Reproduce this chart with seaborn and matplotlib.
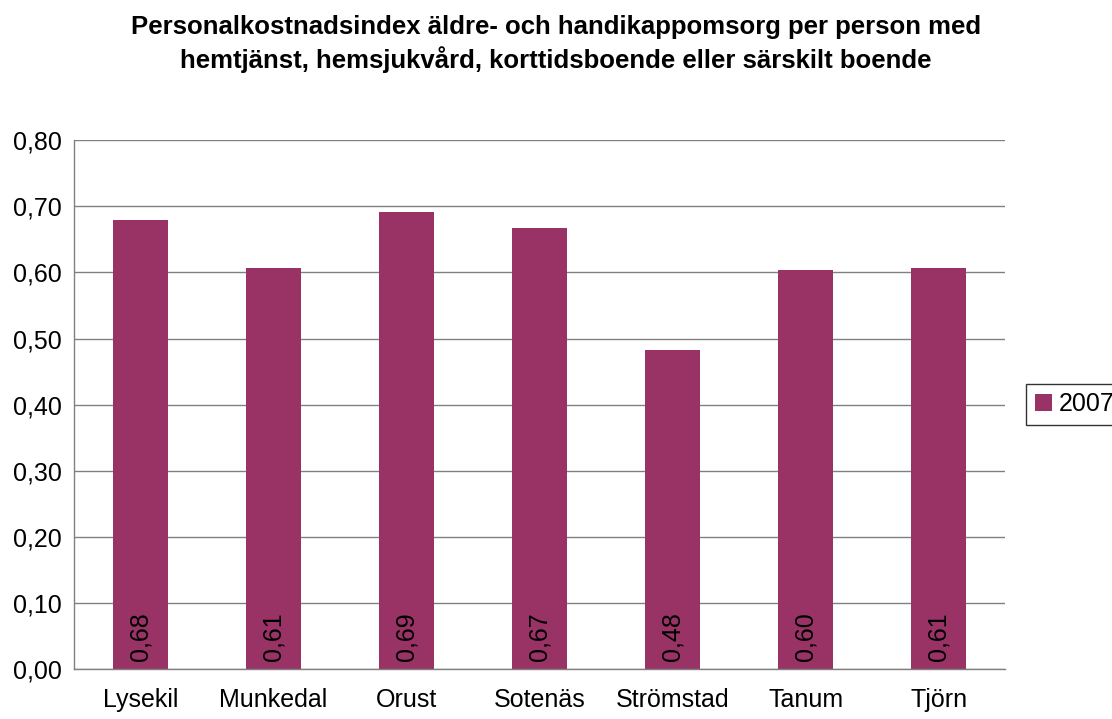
import pandas as pd
import numpy as np
import matplotlib.pyplot as plt
import seaborn as sns
from matplotlib.ticker import FixedLocator

kommuner = ['Lysekil', 'Munkedal', 'Orust', 'Sotenäs', 'Strömstad', 'Tanum', 'Tjörn']
index_2007 = [0.679, 0.606, 0.691, 0.667, 0.482, 0.603, 0.606]
ar = ['2007'] * len(kommuner)

df = pd.DataFrame({'Kommun': kommuner, 'Index': index_2007, 'År': ar})

sns.set_style('white')
plt.rcParams['font.family'] = ['Liberation Sans', 'DejaVu Sans']
plt.rcParams['text.color'] = 'black'
plt.rcParams['xtick.color'] = 'black'
plt.rcParams['ytick.color'] = 'black'

fs = 18

fig = plt.figure(figsize=(11.12, 7.19), dpi=100)
ax = fig.add_axes([0.0665, 0.0695, 0.8375, 0.7355])

sns.barplot(data=df, x='Kommun', y='Index', hue='År', palette=['#993366'],
            width=0.41, ax=ax, saturation=1, linewidth=0)

ax.set_ylim(0, 0.8)
ax.set_xlim(-0.5, len(kommuner) - 0.5)
ax.set_yticks(np.arange(0, 0.81, 0.1))
ax.set_yticklabels([f'{v:.2f}'.replace('.', ',') for v in np.arange(0, 0.81, 0.1)], fontsize=fs)
ax.set_xticks(range(len(kommuner)))
ax.set_xticklabels(kommuner, fontsize=fs)
ax.tick_params(axis='x', which='major', length=0, pad=14)
ax.xaxis.set_minor_locator(FixedLocator(np.arange(-0.5, len(kommuner), 1)))
ax.tick_params(axis='x', which='minor', length=6, color='#808080', direction='out')
ax.tick_params(axis='y', length=6, color='#808080', direction='out', pad=3)
ax.yaxis.grid(True, color='#808080', linewidth=1)
ax.set_axisbelow(True)
ax.set_xlabel('')
ax.set_ylabel('')
for s in ['top', 'right']:
    ax.spines[s].set_visible(False)
for s in ['left', 'bottom']:
    ax.spines[s].set_color('#808080')
    ax.spines[s].set_linewidth(1)

# värden inne i staplarna
for i, v in enumerate(index_2007):
    ax.text(i, 0.012, f'{v:.2f}'.replace('.', ','), rotation=90, ha='center',
            va='bottom', fontsize=fs, color='black')

sns.move_legend(ax, 'center left', bbox_to_anchor=(1026 / 1112, 0.4375),
                bbox_transform=fig.transFigure, title=None, fontsize=fs,
                frameon=True, fancybox=False, edgecolor='black',
                handlelength=0.7, handleheight=0.7, handletextpad=0.25,
                borderpad=0.35, borderaxespad=0)
ax.get_legend().get_frame().set_linewidth(1)

fig.suptitle('Personalkostnadsindex äldre- och handikappomsorg per person med\n'
             'hemtjänst, hemsjukvård, korttidsboende eller särskilt boende',
             x=0.5, y=0.979, fontsize=18.5, fontweight='bold', linespacing=1.32)

fig.savefig('out.png', dpi=100)
